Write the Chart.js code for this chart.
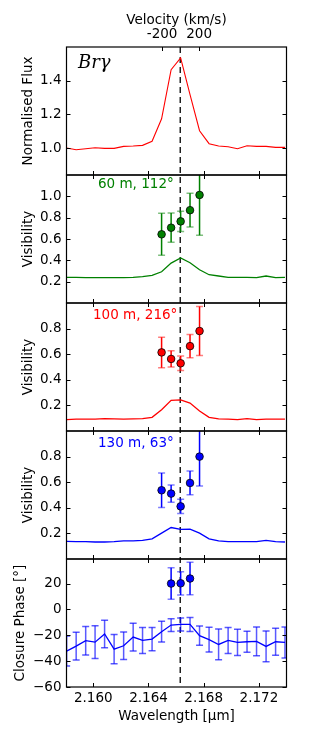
<!DOCTYPE html>
<html>
<head>
<meta charset="utf-8">
<script src="https://cdn.jsdelivr.net/npm/chart.js@4.4.1/dist/chart.umd.min.js"></script>
<style>
  html, body { margin: 0; padding: 0; background: #fff; }
  #wrap { width: 320px; height: 740px; position: relative; }
</style>
</head>
<body>
<div id="wrap"><canvas id="brg" width="320" height="740"></canvas></div>
<script>
/* ---- data ---- */

// spectral channels [micron]
const wavelength = [2.15807, 2.15876, 2.15945, 2.16013, 2.16082, 2.16151, 2.16220, 2.16289,
                    2.16357, 2.16426, 2.16495, 2.16564, 2.16633, 2.16701, 2.16770, 2.16839,
                    2.16908, 2.16977, 2.17045, 2.17114, 2.17183, 2.17252, 2.17321, 2.17389];

// normalised Br-gamma line profile
const flux = [1.000, 0.990, 0.996, 1.002, 0.998, 0.998, 1.010, 1.012, 1.016, 1.040, 1.174, 1.465,
              1.535, 1.317, 1.103, 1.026, 1.012, 1.008, 0.996, 1.014, 1.010, 1.010, 1.004, 1.004];

// continuum-ish visibility curves per baseline
const model60  = [0.241, 0.241, 0.237, 0.237, 0.237, 0.237, 0.237, 0.241, 0.247, 0.259, 0.293, 0.374,
                  0.423, 0.377, 0.312, 0.265, 0.253, 0.241, 0.241, 0.241, 0.237, 0.253, 0.237, 0.241];
const model100 = [0.089, 0.092, 0.092, 0.092, 0.097, 0.094, 0.092, 0.094, 0.097, 0.107, 0.166, 0.239,
                  0.243, 0.218, 0.156, 0.107, 0.094, 0.092, 0.089, 0.097, 0.089, 0.092, 0.092, 0.092];
const model130 = [0.138, 0.135, 0.135, 0.133, 0.133, 0.135, 0.141, 0.141, 0.146, 0.158, 0.202, 0.246,
                  0.231, 0.233, 0.202, 0.158, 0.141, 0.135, 0.135, 0.135, 0.135, 0.146, 0.135, 0.133];

// pure line visibilities (channel indices into wavelength)
const visChannels = [10, 11, 12, 13, 14];
const vis60     = [0.644, 0.706, 0.765, 0.870, 1.013];
const vis60Err  = [0.197, 0.137, 0.095, 0.158, 0.379];
const vis100    = [0.614, 0.563, 0.529, 0.663, 0.781];
const vis100Err = [0.119, 0.063, 0.057, 0.091, 0.192];
const vis130    = [0.537, 0.511, 0.411, 0.594, 0.800];
const vis130Err = [0.134, 0.067, 0.055, 0.093, 0.230];

// closure phase [deg]
const cpLine    = [-32.2, -28.4, -24.2, -25.3, -19.0, -30.7, -28.1, -21.4, -24.0, -22.9, -17.2, -12.1,
                   -11.6, -11.6, -20.3, -23.4, -27.1, -24.0, -25.5, -25.0, -24.7, -28.6, -25.0, -25.5];
const cpLineErr = [11.6, 10.7, 11.0, 12.7, 10.7, 11.4, 10.7, 10.7, 10.1, 9.0, 8.0, 4.9,
                   5.0, 5.4, 7.4, 9.6, 11.9, 10.1, 10.1, 8.1, 11.2, 11.9, 10.5, 12.0];
const cpChannels = [11, 12, 13];
const cpPure     = [20.0, 20.2, 23.9];
const cpPureErr  = [12.2, 9.0, 12.5];

// axes
const lineCentre = 2.1663;
const waveTicks = [2.160, 2.164, 2.168, 2.172];
const velTicks = [-200, 200];
const fluxTicks = [1.0, 1.2, 1.4];
const vis60Ticks = [0.2, 0.4, 0.6, 0.8, 1.0];
const visTicks = [0.2, 0.4, 0.6, 0.8];
const cpTicks = [-60, -40, -20, 0, 20];

/* ---- helpers ---- */
const GREEN = '#008000', RED = '#ff0000', BLUE = '#0000ff';
Chart.defaults.font.family = '"DejaVu Sans", sans-serif';
Chart.defaults.font.size = 13.5;
Chart.defaults.color = '#000';

const asLine = ys => wavelength.map((w, i) => ({x: w, y: ys[i]}));
const asPts = (chans, ys) => chans.map((c, i) => ({x: wavelength[c], y: ys[i]}));
const oneDec = v => v.toFixed(1);
const degFmt = v => (v < 0 ? '\u2212' + Math.abs(v) : String(v));

function modelSet(ys, axis, color) {
  return { data: asLine(ys), yAxisID: axis, showLine: true, borderColor: color,
           borderWidth: 1.3, pointRadius: 0 };
}
function pointSet(chans, ys, errs, axis, color, cap) {
  return { data: asPts(chans, ys), errors: errs, yAxisID: axis, showLine: false,
           pointRadius: 3.8, pointBackgroundColor: color, pointBorderColor: '#000',
           pointBorderWidth: 0.8, barColor: color, capColor: cap };
}

const panels = ['yF', 'y60', 'y100', 'y130', 'yCP'];
// tick values and label format per panel axis
const panelTicks = {
  yF:   { ticks: fluxTicks,  fmt: oneDec },
  y60:  { ticks: vis60Ticks, fmt: oneDec },
  y100: { ticks: visTicks,   fmt: oneDec },
  y130: { ticks: visTicks,   fmt: oneDec },
  yCP:  { ticks: cpTicks,    fmt: degFmt }
};

const notes = [
  { axis: 'y60',  text: '60 m, 112°',  color: GREEN, dx: 31.5, dy: 9 },
  { axis: 'y100', text: '100 m, 216°', color: RED,   dx: 26.5, dy: 12 },
  { axis: 'y130', text: '130 m, 63°',  color: BLUE,  dx: 31.5, dy: 12 }
];

const decorations = {
  id: 'decorations',
  beforeDatasetsDraw(chart) {
    const {ctx, chartArea: a, scales} = chart;
    const x = scales.x;
    // rest wavelength marker through all panels
    const xl = x.getPixelForValue(lineCentre);
    ctx.save();
    ctx.strokeStyle = '#000';
    ctx.lineWidth = 1.3;
    ctx.setLineDash([6, 4]);
    ctx.beginPath();
    ctx.moveTo(xl, a.top);
    ctx.lineTo(xl, a.bottom);
    ctx.stroke();
    ctx.restore();

    // error bars, clipped to their own panel
    chart.data.datasets.forEach(ds => {
      if (!ds.errors) return;
      const ys = scales[ds.yAxisID];
      ctx.save();
      ctx.beginPath();
      ctx.rect(a.left, ys.top, a.right - a.left, ys.bottom - ys.top);
      ctx.clip();
      ctx.lineWidth = 1.5;
      ds.data.forEach((p, i) => {
        const px = x.getPixelForValue(p.x);
        const y1 = ys.getPixelForValue(p.y + ds.errors[i]);
        const y2 = ys.getPixelForValue(p.y - ds.errors[i]);
        ctx.strokeStyle = ds.barColor;
        ctx.beginPath();
        ctx.moveTo(px, y1);
        ctx.lineTo(px, y2);
        ctx.stroke();
        ctx.strokeStyle = ds.capColor;
        ctx.beginPath();
        ctx.moveTo(px - 3.5, y1); ctx.lineTo(px + 3.5, y1);
        ctx.moveTo(px - 3.5, y2); ctx.lineTo(px + 3.5, y2);
        ctx.stroke();
      });
      ctx.restore();
    });
  },
  afterDraw(chart) {
    const {ctx, chartArea: a, scales} = chart;
    const x = scales.x, xv = scales.xv;
    const tl = 4;
    ctx.save();

    // y tick labels (placed through each panel's own scale)
    ctx.fillStyle = '#000';
    ctx.font = '13.5px "DejaVu Sans"';
    ctx.textAlign = 'right';
    ctx.textBaseline = 'middle';
    panels.forEach(id => {
      const ys = scales[id];
      const {ticks, fmt} = panelTicks[id];
      ticks.forEach(v => ctx.fillText(fmt(v), a.left - 5, ys.getPixelForValue(v)));
    });

    ctx.strokeStyle = '#000';
    ctx.lineWidth = 1;
    panels.forEach((id, k) => {
      const ys = scales[id];
      // inward ticks, left and right
      ctx.beginPath();
      panelTicks[id].ticks.forEach(v => {
        const py = Math.round(ys.getPixelForValue(v)) + 0.5;
        ctx.moveTo(a.left, py); ctx.lineTo(a.left + tl, py);
        ctx.moveTo(a.right, py); ctx.lineTo(a.right - tl, py);
      });
      // inward ticks, top and bottom
      waveTicks.forEach(v => {
        const px = Math.round(x.getPixelForValue(v)) + 0.5;
        ctx.moveTo(px, ys.bottom); ctx.lineTo(px, ys.bottom - tl);
        if (k > 0) { ctx.moveTo(px, ys.top); ctx.lineTo(px, ys.top + tl); }
      });
      if (k === 0) {
        velTicks.forEach(v => {
          const px = Math.round(xv.getPixelForValue(v)) + 0.5;
          ctx.moveTo(px, ys.top); ctx.lineTo(px, ys.top + tl);
        });
      }
      ctx.stroke();
    });
    // panel frames
    ctx.lineWidth = 1.2;
    panels.forEach(id => {
      const ys = scales[id];
      ctx.strokeRect(a.left, ys.top, a.right - a.left, ys.bottom - ys.top);
    });
    // panel captions
    ctx.textBaseline = 'middle';
    ctx.textAlign = 'left';
    ctx.font = '13.5px "DejaVu Sans"';
    notes.forEach(n => {
      ctx.fillStyle = n.color;
      ctx.fillText(n.text, a.left + n.dx, scales[n.axis].top + n.dy);
    });
    ctx.fillStyle = '#000';
    ctx.font = 'italic 18px "DejaVu Serif"';
    ctx.fillText('Brγ', a.left + 11.5, scales.yF.top + 16);
    ctx.restore();
  }
};

function yScale(weight, min, max, ticks, title, titlePad) {
  return {
    type: 'linear', position: 'left', stack: 'panels', stackWeight: 1, weight: weight,
    min: min, max: max, offset: false,
    grid: { display: false, drawTicks: false }, border: { display: false },
    afterBuildTicks: s => { s.ticks = ticks.map(v => ({value: v})); },
    afterFit: s => { s.width = 66.5; },
    ticks: { display: false },
    title: { display: true, text: title, padding: { top: titlePad, bottom: 0 } }
  };
}

new Chart(document.getElementById('brg'), {
  type: 'scatter',
  data: {
    datasets: [
      { data: asLine(flux), yAxisID: 'yF', showLine: true, borderColor: RED, borderWidth: 1.1, pointRadius: 0 },
      modelSet(model60, 'y60', GREEN),
      pointSet(visChannels, vis60, vis60Err, 'y60', GREEN, 'rgba(0,128,0,0.5)'),
      modelSet(model100, 'y100', RED),
      pointSet(visChannels, vis100, vis100Err, 'y100', RED, 'rgba(255,0,0,0.5)'),
      modelSet(model130, 'y130', BLUE),
      pointSet(visChannels, vis130, vis130Err, 'y130', BLUE, 'rgba(0,0,255,0.5)'),
      Object.assign(modelSet(cpLine, 'yCP', BLUE), { errors: cpLineErr,
        barColor: 'rgba(0,0,255,0.65)', capColor: 'rgba(0,0,255,0.65)' }),
      pointSet(cpChannels, cpPure, cpPureErr, 'yCP', BLUE, 'rgba(0,0,255,0.5)')
    ]
  },
  options: {
    responsive: false,
    animation: false,
    events: [],
    layout: { padding: { left: 0, right: 33.5, top: 0, bottom: 0 } },
    plugins: { legend: { display: false }, tooltip: { enabled: false } },
    scales: {
      x: {
        type: 'linear', position: 'bottom', min: 2.15806, max: 2.17400,
        grid: { display: false, drawTicks: false }, border: { display: false },
        afterBuildTicks: s => { s.ticks = waveTicks.map(v => ({value: v})); },
        afterFit: s => { s.height = 53; },
        ticks: { padding: 3.5, maxRotation: 0, autoSkip: false, callback: v => v.toFixed(3) },
        title: { display: true, text: 'Wavelength [μm]', padding: { top: 0, bottom: 15.5 } }
      },
      xv: {
        type: 'linear', position: 'top', min: -1234, max: 1145,
        grid: { display: false, drawTicks: false }, border: { display: false },
        afterBuildTicks: s => { s.ticks = velTicks.map(v => ({value: v})); },
        afterFit: s => { s.height = 47; },
        ticks: { padding: 4, maxRotation: 0, autoSkip: false, callback: v => String(v) },
        title: { display: true, text: 'Velocity (km/s)', padding: { top: 12, bottom: 0 } }
      },
      yF:   yScale(5, 0.84, 1.6, fluxTicks, 'Normalised Flux', 20),
      y60:  yScale(4, 0, 1.2, vis60Ticks, 'Visibility', 20),
      y100: yScale(3, 0, 1.0, visTicks, 'Visibility', 20),
      y130: yScale(2, 0, 1.0, visTicks, 'Visibility', 20),
      yCP:  yScale(1, -60, 39, cpTicks, 'Closure Phase [°]', 12)
    }
  },
  plugins: [decorations]
});
</script>
</body>
</html>
